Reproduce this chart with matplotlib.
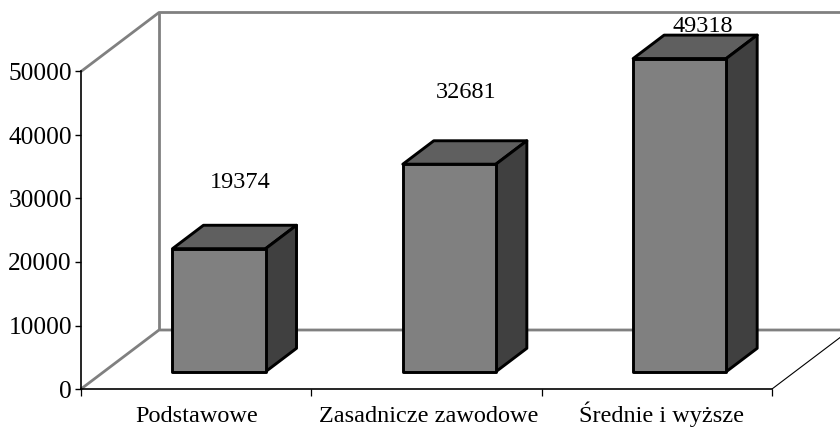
import numpy as np
import matplotlib
matplotlib.use('Agg')
import matplotlib.pyplot as plt

categories = ['Podstawowe', 'Zasadnicze zawodowe', 'Średnie i wyższe']
values = [19374, 32681, 49318]
y_ticks = [0, 10000, 20000, 30000, 40000, 50000]

plt.rcParams['font.family'] = ['Liberation Serif', 'DejaVu Serif']
plt.rcParams['font.size'] = 17.5

W, H = 840, 428
fig = plt.figure(figsize=(W / 100, H / 100), dpi=100)
ax = fig.add_axes([81 / W, (H - 389) / H, 691 / W, 317.5 / H])
ax.set_xlim(0, 3)
ax.set_ylim(0, 50000)

# size of one full step into the chart's depth, in data units
depth_x = 78 / 691 * 3
depth_y = 59 / 317.5 * 50000


def project(x, v, d):
    return x + d * depth_x, v + d * depth_y


def face(points, color):
    xs, ys = zip(*[project(*p) for p in points])
    ax.fill(xs, ys, facecolor=color, edgecolor='black', lw=2.1,
            joinstyle='round', clip_on=False, zorder=3)


def wall_line(points, color='#808080', lw=2.0):
    xs, ys = zip(*[project(*p) for p in points])
    ax.plot(xs, ys, color=color, lw=lw, clip_on=False, zorder=1,
            solid_capstyle='butt')


# walls and floor
wall_line([(0, 50000, 0), (0, 50000, 1), (3, 50000, 1)])
wall_line([(0, 0, 1), (0, 50000, 1)])
wall_line([(0, 0, 0), (0, 0, 1), (3, 0, 1)])
wall_line([(3, 0, 0), (3, 0, 1)], color='black', lw=0.8)

# bars
bar_w = 0.404
d0, d1 = 0.293, 0.69
for i, v in enumerate(values):
    x0 = i + 0.5 - bar_w / 2
    x1 = i + 0.5 + bar_w / 2
    face([(x0, v, d0), (x1, v, d0), (x1, v, d1), (x0, v, d1)], '#5f5f5f')
    face([(x1, 0, d0), (x1, 0, d1), (x1, v, d1), (x1, v, d0)], '#404040')
    face([(x0, 0, d0), (x1, 0, d0), (x1, v, d0), (x0, v, d0)], '#808080')

# value labels sit at different heights in the original
label_x = [0.69, 1.67, 2.70]
label_y = [32500, 46700, 57100]
for x, y, v in zip(label_x, label_y, values):
    ax.text(x, y, str(v), ha='center', va='center', color='black',
            clip_on=False, zorder=4)

for side in ['top', 'right']:
    ax.spines[side].set_visible(False)
for side in ['left', 'bottom']:
    ax.spines[side].set_linewidth(1.2)
    ax.spines[side].set_zorder(2)

ax.set_yticks(y_ticks)
ax.set_xticks([0, 1, 2, 3])
ax.set_xticklabels([])
ax.set_xticks([0.5, 1.51, 2.52], categories, minor=True)
ax.tick_params(axis='y', length=4.5, width=1.0, pad=2, labelsize=18.3)
ax.tick_params(axis='x', which='major', length=5, width=0.9)
ax.tick_params(axis='x', which='minor', length=0, pad=24)
for label in ax.get_xticklabels(minor=True):
    label.set_verticalalignment('baseline')
ax.patch.set_alpha(0)

fig.savefig('out.png', dpi=100)
